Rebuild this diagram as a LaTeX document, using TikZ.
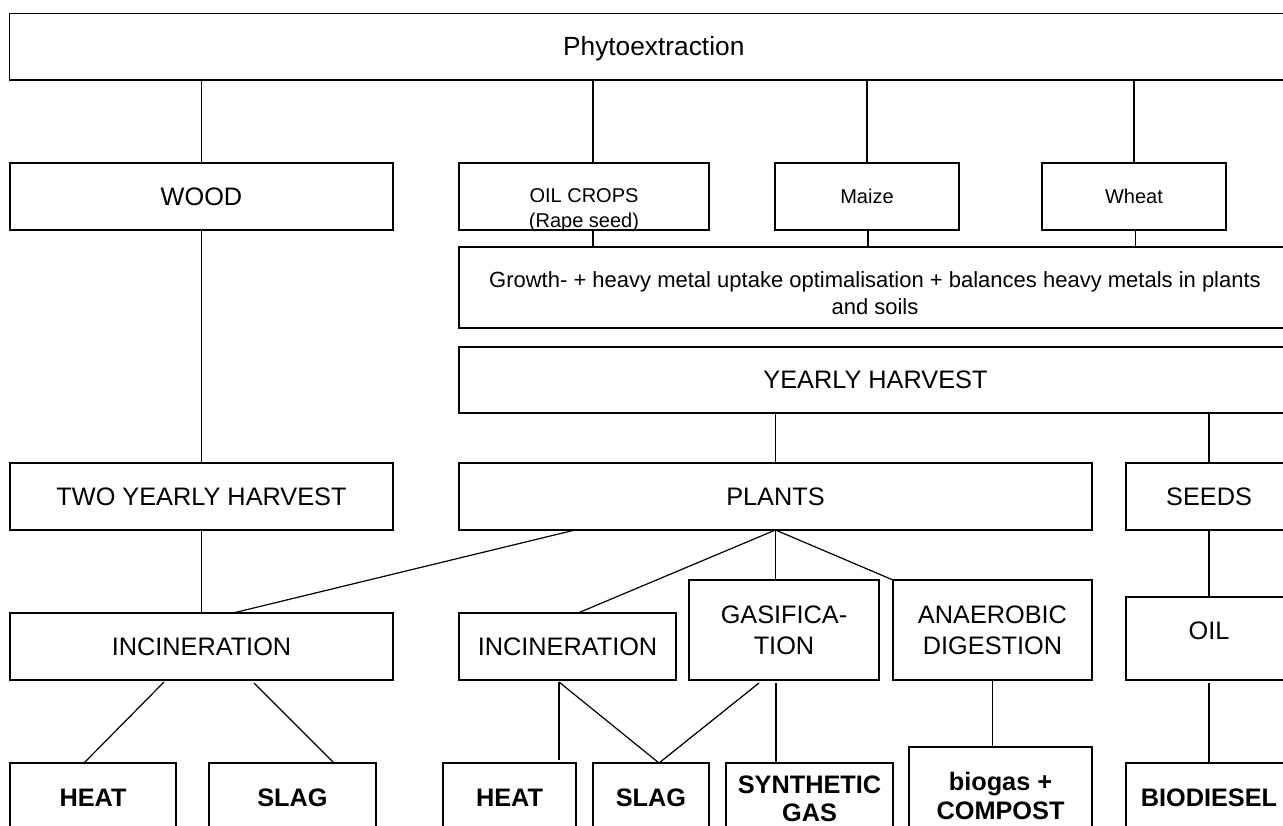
\documentclass[tikz,border=0pt]{standalone}
\usepackage{fontspec}
\setmainfont{Liberation Sans}
\usetikzlibrary{calc}
\tikzset{
  box/.style={draw, line width=1.3pt, inner sep=0pt, outer sep=0pt, align=center,
    font=\fontsize{25.3}{31}\selectfont},
  smallbox/.style={box, font=\fontsize{20}{25}\selectfont},
  midbox/.style={box, font=\fontsize{22}{27}\selectfont},
  endbox/.style={box, font=\bfseries\fontsize{25.3}{28.5}\selectfont},
  link/.style={line width=1.2pt},
}
% box from (x1,y1) to (x2,y2): center and size
\newcommand{\bx}[7][]{\node[#2, #1, minimum width={(#5)-(#3)}, minimum height={(#6)-(#4)}] (#7) at ({((#3)+(#5))/2},{((#4)+(#6))/2})}
\begin{document}
\begin{tikzpicture}[x=1pt,y=-1pt]
\useasboundingbox (0,0) rectangle (1283,826);
\clip (0,0) rectangle (1283,826);
\fill[white] (0,0) rectangle (1283,826);

\bx[label={[font=\fontsize{26.3}{31}\selectfont, yshift=-1.5pt]center:Phytoextraction}]{box}{9.5}{13.5}{1298}{80}{phyto} {};
\bx{box}{10}{163}{393}{230}{wood} {WOOD};
\bx[label={[font=\fontsize{20}{25}\selectfont, align=center, yshift=-13.5pt]center:OIL CROPS\\(Rape seed)}]{smallbox}{459}{163}{709}{230}{oilcrops} {};
\bx{smallbox}{775}{163}{959}{230}{maize} {Maize};
\bx{smallbox}{1042}{163}{1226}{230}{wheat} {Wheat};
\bx[label={[font=\fontsize{22}{27}\selectfont, align=center, yshift=-6pt]center:Growth- + heavy metal uptake optimalisation + balances heavy metals in plants\\and soils}]{midbox}{459}{247}{1291}{328}{growth} {};
\bx{box}{459}{347}{1292}{413}{yearly} {YEARLY HARVEST};
\bx{box}{10}{463}{393}{530}{twoyear} {TWO YEARLY HARVEST};
\bx{box}{459}{463}{1092}{530}{plants} {PLANTS};
\bx{box}{1126}{463}{1292}{530}{seeds} {SEEDS};
\bx{box}{10}{613}{393}{680}{incA} {INCINERATION};
\bx{box}{459}{613}{676}{680}{incB} {INCINERATION};
\bx{box}{689}{580}{879}{680}{gasif} {GASIFICA-\\TION};
\bx{box}{893}{580}{1092}{680}{anaer} {ANAEROBIC\\DIGESTION};
\bx[label={[font=\fontsize{25.3}{31}\selectfont, yshift=7.5pt]center:OIL}]{box}{1126}{597}{1292}{680}{oil} {};
\bx{endbox}{10}{763}{176}{832}{heatA} {HEAT};
\bx{endbox}{209}{763}{376}{832}{slagA} {SLAG};
\bx{endbox}{443}{763}{576}{832}{heatB} {HEAT};
\bx{endbox}{593}{763}{709}{832}{slagB} {SLAG};
\bx{endbox}{726}{763}{893}{835}{synth} {SYNTHETIC\\GAS};
\bx{endbox}{909}{747}{1092}{845}{biogas} {biogas +\\COMPOST};
\bx{endbox}{1126}{763}{1292}{832}{biodiesel} {BIODIESEL};

% connectors
\draw[link] (wood.north) -- (wood.north |- phyto.south);
\draw[link] ($(oilcrops.north)+(9,0)$) -- ($(oilcrops.north |- phyto.south)+(9,0)$);
\draw[link] (maize.north) -- (maize.north |- phyto.south);
\draw[link] (wheat.north) -- (wheat.north |- phyto.south);
\draw[link] ($(oilcrops.south)+(9,0)$) -- ($(oilcrops.south |- growth.north)+(9,0)$);
\draw[link] ($(maize.south)+(1,0)$) -- ($(maize.south |- growth.north)+(1,0)$);
\draw[link] ($(wheat.south)+(1.5,0)$) -- ($(wheat.south |- growth.north)+(1.5,0)$);
\draw[link] (wood.south) -- (twoyear.north);
\draw[link] (plants.north) -- (plants.north |- yearly.south);
\draw[link] (seeds.north) -- (seeds.north |- yearly.south);
\draw[link] (twoyear.south) -- (incA.north);
\draw[link] ($(plants.south)+(-200.5,0)$) -- ($(incA.north)+(31.5,0)$);
\draw[link] (plants.south) -- ($(incB.north)+(10.5,0)$);
\draw[link] (plants.south) -- (plants.south |- gasif.north);
\draw[link] (plants.south) -- (anaer.north west);
\draw[link] (seeds.south) -- (oil.north);
\draw[link] ($(incA.south)+(-37.5,2)$) -- ($(heatA.north)+(-9,0)$);
\draw[link] ($(incA.south)+(52.5,3)$) -- ($(slagA.north)+(41.5,0)$);
\draw[link] ($(incB.south)+(-8.5,2)$) -- ($(heatB.north)+(49.5,-3)$);
\draw[link] ($(incB.south)+(-8.5,2)$) -- ($(slagB.north)+(8,0)$);
\draw[link] ($(gasif.south)+(-25,3)$) -- ($(slagB.north)+(8,0)$);
\draw[link] ($(gasif.south)+(-8,3)$) -- ($(synth.north)+(-33.5,0)$);
\draw[link] (anaer.south) -- (anaer.south |- biogas.north);
\draw[link] ($(oil.south)+(0,3)$) -- ($(biodiesel.north)+(0,-1)$);
\end{tikzpicture}
\end{document}
